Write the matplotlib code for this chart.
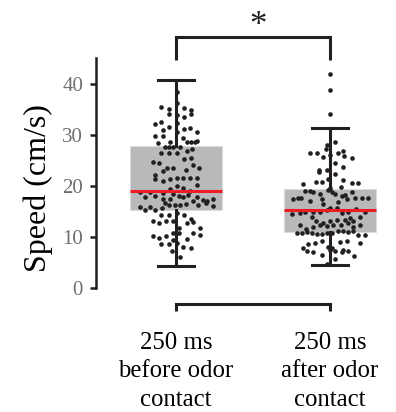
import matplotlib
matplotlib.use("Agg")
import matplotlib.pyplot as plt

plt.rcParams['font.family'] = ['Liberation Serif', 'DejaVu Serif']

categories = ["250 ms\nbefore odor\ncontact", "250 ms\nafter odor\ncontact"]
positions = [1, 2]

# box statistics (cm/s)
whislo = [4.4, 4.5]
q1 = [15.3, 11.0]
med = [19.0, 15.3]
q3 = [27.8, 19.4]
whishi = [40.8, 31.4]

# individual trials: speed values and horizontal jitter
before_vals = [38.5, 36.2, 35.4, 35.1, 34.2, 35.3, 34.9, 34.2, 33.9, 33.6,
               32.1, 32.5, 31.5, 32.4, 31.0, 31.2, 31.3, 30.5, 29.8, 29.9,
               30.5, 28.5, 28.7, 29.5, 28.7, 28.7, 28.7, 28.8, 27.6, 27.6,
               27.6, 27.6, 26.5, 26.4, 26.5, 26.9, 27.2, 24.8, 24.5, 25.2,
               25.4, 24.1, 23.5, 23.5, 22.9, 23.1, 23.5, 22.2, 21.3, 21.0,
               21.3, 21.5, 21.5, 21.6, 21.5, 20.0, 19.7, 20.2, 19.1, 18.9,
               18.9, 19.4, 18.6, 18.4, 18.0, 18.2, 17.9, 18.0, 17.4, 17.4,
               17.9, 17.9, 17.3, 17.0, 17.4, 16.6, 16.2, 16.2, 16.2, 16.5,
               17.0, 16.2, 16.6, 16.1, 15.8, 15.3, 15.9, 15.3, 15.6, 14.3,
               14.3, 14.8, 14.3, 13.2, 12.8, 13.2, 13.2, 12.8, 13.5, 13.0,
               11.7, 10.8, 10.7, 11.8, 10.7, 10.4, 10.2, 9.9, 10.1, 9.4,
               9.6, 8.6, 8.6, 8.9, 8.1, 7.8, 7.3, 6.0]
before_jit = [0.004, 0.004, -0.1, -0.045, -0.045, 0.052, 0.1, 0.1, 0.004, 0.052,
              -0.136, -0.1, -0.043, 0.004, -0.087, 0.052, 0.093, 0.139, -0.136, -0.087,
              0.004, -0.115, -0.039, 0.048, 0.069, 0.095, 0.121, 0.139, -0.071, -0.043,
              -0.017, 0.028, -0.1, -0.043, 0.004, 0.069, 0.104, -0.147, -0.108, 0.052,
              0.1, 0.108, -0.06, -0.021, -0.087, 0.065, 0.152, -0.136, -0.136, -0.087,
              -0.039, 0.004, 0.048, 0.091, 0.139, 0.004, 0.048, 0.139, 0.091, -0.234,
              -0.169, -0.039, -0.087, -0.017, 0.022, 0.08, -0.201, -0.136, -0.087, -0.039,
              0.043, 0.134, 0.177, 0.203, 0.238, -0.071, -0.045, -0.006, 0.026, 0.065,
              0.108, 0.145, 0.195, 0.238, -0.234, -0.201, -0.169, -0.136, -0.093, -0.1,
              -0.043, 0.004, 0.052, -0.147, -0.108, -0.065, -0.021, 0.069, 0.1, 0.108,
              0.022, 0.022, -0.021, 0.156, 0.108, 0.156, -0.147, -0.108, -0.065, -0.021,
              0.069, -0.1, -0.043, 0.004, 0.048, 0.1, -0.023, 0.026]

after_vals = [28.7, 27.2, 26.5, 26.5, 26.9, 26.5, 26.1, 25.7, 25.9, 25.4,
              24.5, 23.1, 22.7, 23.1, 23.7, 22.3, 20.3, 20.8, 20.8, 21.3,
              21.1, 20.5, 20.5, 19.7, 19.9, 19.1, 19.0, 18.8, 18.4, 19.3,
              18.8, 18.4, 18.0, 18.3, 18.9, 17.5, 17.6, 17.6, 17.0, 17.5,
              16.9, 17.5, 17.6, 17.6, 17.6, 16.5, 15.0, 14.7, 15.0, 14.9,
              15.2, 15.7, 15.6, 14.7, 15.0, 15.4, 15.0, 13.9, 13.1, 12.7,
              13.1, 13.4, 13.4, 13.7, 13.1, 13.9, 12.3, 11.6, 11.9, 12.3,
              12.1, 12.3, 12.4, 12.7, 11.9, 12.3, 14.5, 10.8, 10.8, 11.0,
              10.8, 10.6, 10.6, 10.8, 10.8, 11.1, 11.2, 11.0, 11.1, 10.3,
              10.3, 9.3, 8.8, 8.6, 8.0, 7.8, 7.5, 9.0, 9.2, 7.5,
              8.8, 7.8, 7.3, 7.1, 6.5, 7.2, 7.1, 7.2, 6.2, 5.6,
              4.7, 41.9, 38.8, 34.2, 28.0]
after_jit = [0.03, -0.026, -0.082, -0.13, 0.082, 0.054, 0.0, -0.043, 0.093, 0.145,
             0.03, -0.07, -0.07, -0.022, 0.082, 0.03, -0.173, -0.09, -0.054, -0.015,
             0.082, 0.145, 0.184, 0.0, 0.07, -0.162, -0.13, -0.108, -0.065, -0.01,
             0.011, 0.032, 0.075, 0.097, 0.14, -0.24, -0.21, -0.19, -0.13, -0.05,
             0.054, 0.108, 0.162, 0.205, 0.249, -0.043, -0.162, -0.195, -0.108, -0.065,
             -0.022, 0.0, 0.043, 0.075, 0.119, 0.17, 0.227, -0.119, -0.09, -0.043,
             0.0, 0.043, 0.097, 0.13, 0.152, 0.195, -0.195, -0.156, -0.108, -0.065,
             -0.022, 0.022, 0.071, 0.119, 0.152, 0.195, -0.25, -0.216, -0.184, -0.152,
             -0.119, -0.087, -0.054, -0.022, 0.011, 0.054, 0.087, 0.119, 0.152, 0.184,
             0.227, -0.054, -0.097, -0.141, -0.011, 0.011, 0.0, 0.065, 0.108, 0.087,
             0.195, -0.173, -0.152, -0.108, -0.054, 0.032, 0.075, 0.119, 0.156, 0.032,
             -0.022, 0.0, 0.0, 0.0, -0.02]

yticks = [0, 10, 20, 30, 40]
sig_label = "*"
ylabel = "Speed (cm/s)"

dark = '#231f20'

fig = plt.figure(figsize=(3.96, 4.12), dpi=100)
ax = fig.add_axes([96/396, 1 - 288/412, 294/396, (288 - 58.5)/412])

stats = []
for i in range(2):
    stats.append(dict(whislo=whislo[i], q1=q1[i], med=med[i], q3=q3[i],
                      whishi=whishi[i], fliers=[]))

ax.bxp(stats, positions=positions, widths=0.6, capwidths=0.23,
       patch_artist=True, showfliers=False,
       boxprops=dict(facecolor='#b8b9bb', edgecolor='#dcdcdc', linewidth=0.8, zorder=1),
       whiskerprops=dict(color=dark, linewidth=2.2, zorder=2),
       capprops=dict(color=dark, linewidth=2.2, zorder=2),
       medianprops=dict(color='#ec1c24', linewidth=2.2, zorder=4))

ax.scatter([positions[0] + j for j in before_jit], before_vals, s=11,
           color=dark, linewidths=0, zorder=3)
ax.scatter([positions[1] + j for j in after_jit], after_vals, s=11,
           color=dark, linewidths=0, zorder=3)

ax.set_xlim(0.4805, 2.3896)
ax.set_ylim(0, 45)

for s in ['top', 'right']:
    ax.spines[s].set_visible(False)
ax.spines['left'].set_linewidth(1.8)
ax.spines['left'].set_color(dark)
ax.spines['left'].set_bounds(0, 45)
ax.spines['bottom'].set_position(('outward', 11.5))
ax.spines['bottom'].set_bounds(1, 2)
ax.spines['bottom'].set_linewidth(2.2)
ax.spines['bottom'].set_color(dark)

ax.set_yticks(yticks)
ax.set_yticklabels([str(t) for t in yticks])
ax.tick_params(axis='y', direction='out', length=4.3, width=1.8, color=dark,
               labelsize=15, labelcolor='#6d6e71', pad=5)
ax.set_xticks(positions)
ax.set_xticklabels(categories, linespacing=1.38)
ax.tick_params(axis='x', direction='out', length=5, width=2.2, color=dark,
               labelsize=17.8, labelcolor='black', pad=15)

ax.set_ylabel(ylabel, fontsize=23)
ax.yaxis.set_label_coords(-0.145, 0.435)

# significance bracket
ax.plot([1, 1, 2, 2], [44.7, 49.2, 49.2, 44.7], color=dark, lw=2.2,
        clip_on=False, solid_capstyle='butt', solid_joinstyle='miter')
ax.text(1.53, 51.2, sig_label, fontsize=25, ha='center', va='center',
        color=dark, clip_on=False)

fig.savefig('out.png', dpi=100)
